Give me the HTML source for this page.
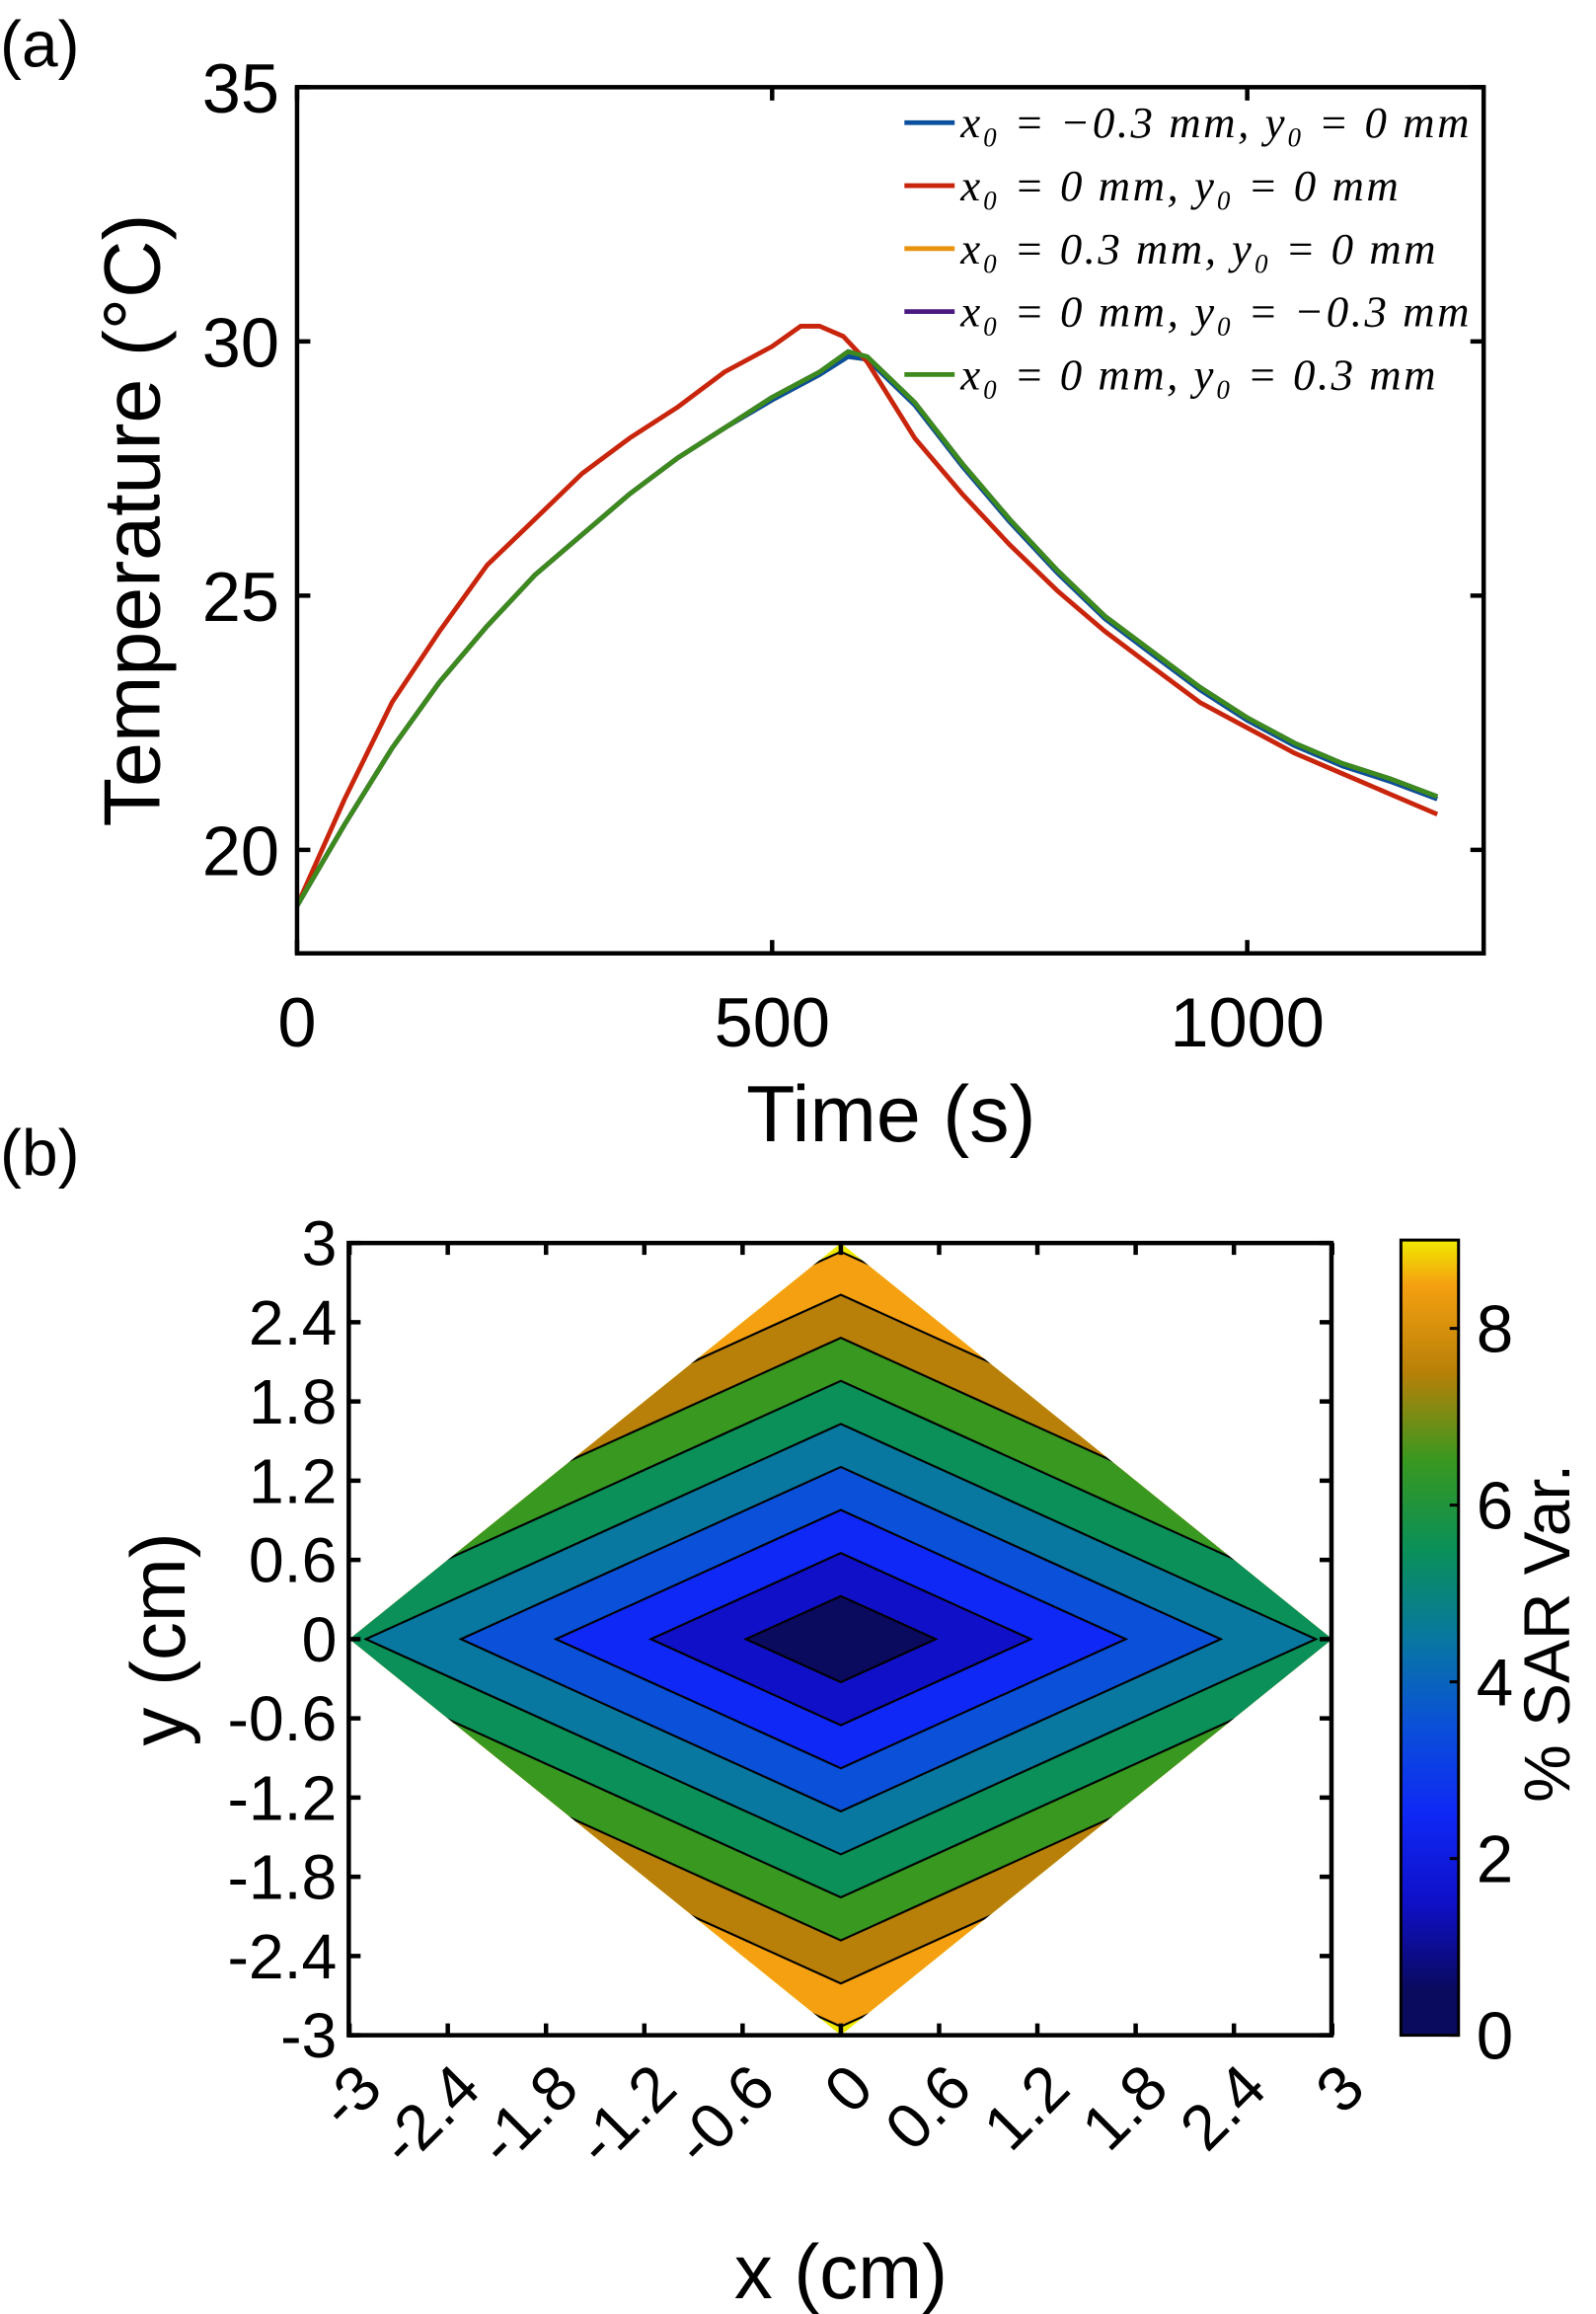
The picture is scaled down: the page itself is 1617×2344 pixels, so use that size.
<!DOCTYPE html>
<html><head><meta charset="utf-8"><style>
html,body{margin:0;padding:0;background:#fff}
svg{display:block}
text{font-family:"Liberation Sans",Arial,sans-serif;fill:#000}
.leg{font-family:"Liberation Serif",serif;font-style:italic;font-size:30px}
</style></head><body>
<svg id="fig" width="1617" height="2344" viewBox="0 0 1080 1565.6" xmlns="http://www.w3.org/2000/svg">
<rect width="1080" height="1566" fill="#fff"/>
<text x="0" y="45" font-size="44">(a)</text>
<text x="0" y="795" font-size="44">(b)</text>
<g id="pa"></g>
<g id="pb"></g>
</svg>
<script>
// ---- Panel (a) data ----
const times=[0,50,100,150,200,250,300,350,400,450,500,530,550,575,600,650,700,750,800,850,900,950,1000,1050,1100,1150,1200];
const redT=[18.9,21.0,22.9,24.3,25.6,26.5,27.4,28.1,28.7,29.4,29.9,30.3,30.3,30.1,29.6,28.1,27.0,26.0,25.1,24.3,23.6,22.9,22.4,21.9,21.5,21.1,20.7];
const timesG=[0,50,100,150,200,250,300,350,400,450,500,550,580,600,650,700,750,800,850,900,950,1000,1050,1100,1150,1200];
const greenT=[18.9,20.5,22.0,23.3,24.4,25.4,26.2,27.0,27.7,28.3,28.9,29.4,29.8,29.7,28.8,27.6,26.5,25.5,24.6,23.9,23.2,22.6,22.1,21.7,21.4,21.05];
const blueT=[18.9,20.5,22.0,23.3,24.4,25.4,26.2,27.0,27.7,28.3,28.85,29.35,29.7,29.65,28.75,27.55,26.45,25.45,24.55,23.85,23.15,22.55,22.05,21.65,21.35,21.0];
const yTicksA=[20,25,30,35];
const xTicksA=[0,500,1000];
const legendLabels=["x\u2080 = \u22120.3 mm, y\u2080 = 0 mm","x\u2080 = 0 mm, y\u2080 = 0 mm","x\u2080 = 0.3 mm, y\u2080 = 0 mm","x\u2080 = 0 mm, y\u2080 = \u22120.3 mm","x\u2080 = 0 mm, y\u2080 = 0.3 mm"];
const legendColors=["#0a4f9e","#c8250c","#e8930f","#4a1a80","#3c8a1e"];
// ---- Panel (b) data ----
const levels=[1,2,3,4,5,6,7,8,9];
const bandColors=["#0a0a5e","#0f10c8","#0f28f5","#0a50d8","#0878a0","#0a9058","#389820","#b88008","#f5a010","#f0ea00"];
const wUnit=0.58, hUnit=0.326;
const ticksB=[-3,-2.4,-1.8,-1.2,-0.6,0,0.6,1.2,1.8,2.4,3];
const cbTicks=[0,2,4,6,8];
const cbMax=9;

const NS="http://www.w3.org/2000/svg";
function mk(tag,attrs,parent){const e=document.createElementNS(NS,tag);for(const k in attrs)e.setAttribute(k,attrs[k]);parent.appendChild(e);return e;}

// ===== Panel a =====
const pa=document.getElementById('pa');
const A={l:201,r:1004,t:59,b:645};
const xa=t=>A.l+t*0.643;
const ya=v=>575-(v-20)*34.4;
function line(xs,ys,color,name,w){
  let d=xs.map((t,i)=>(i?'L':'M')+xa(t).toFixed(1)+','+ya(ys[i]).toFixed(1)).join('');
  const p=mk('path',{d:d,fill:'none',stroke:color,'stroke-width':w||3.2,'stroke-linejoin':'round'},pa);
  
  
}
line(timesG,blueT,legendColors[2],'series-x0-0.3');
line(timesG,blueT,legendColors[0],'series-x0-minus0.3');
line(timesG,greenT,legendColors[3],'series-y0-minus0.3');
line(times,redT,legendColors[1],'series-center');
line(timesG,greenT,legendColors[4],'series-y0-0.3');
const fa=mk('rect',{x:A.l,y:A.t,width:A.r-A.l,height:A.b-A.t,fill:'none',stroke:'#000','stroke-width':3},pa);


yTicksA.forEach(v=>{
  const y=ya(v);
  mk('line',{x1:A.l,x2:A.l+9,y1:y,y2:y,stroke:'#000','stroke-width':3},pa);
  mk('line',{x1:A.r,x2:A.r-9,y1:y,y2:y,stroke:'#000','stroke-width':3},pa);
  const t=mk('text',{x:A.l-12,y:y+17,'font-size':47,'text-anchor':'end'},pa);t.textContent=v;
  
  
});
xTicksA.forEach(v=>{
  const x=xa(v);
  mk('line',{x1:x,x2:x,y1:A.b,y2:A.b-9,stroke:'#000','stroke-width':3},pa);
  mk('line',{x1:x,x2:x,y1:A.t,y2:A.t+9,stroke:'#000','stroke-width':3},pa);
  const t=mk('text',{x:x,y:708,'font-size':47,'text-anchor':'middle'},pa);t.textContent=v;
  
  
});
let t1=mk('text',{x:603,y:772,'font-size':54,'text-anchor':'middle'},pa);t1.textContent='Time (s)';


let t2=mk('text',{x:0,y:0,'font-size':54,'text-anchor':'middle',transform:'translate(108,352) rotate(-90)'},pa);t2.textContent='Temperature (\u00B0C)';


legendLabels.forEach((s,i)=>{
  const y=83+i*42.6;
  const g=mk('g',{},pa);
  
  
  mk('line',{x1:612,x2:646,y1:y,y2:y,stroke:legendColors[i],'stroke-width':3.2},g);
  const t=mk('text',{x:650,y:y+10,class:'leg'},g);t.textContent=s;
  const L=t.getComputedTextLength();
  if(L>0){t.setAttribute('textLength',(L*1.12).toFixed(1));t.setAttribute('lengthAdjust','spacing');}
});

// ===== Panel b =====
const pb=document.getElementById('pb');
const B={l:236,r:901,t:841,b:1377};
const xb=v=>569+v*(B.r-B.l)/6;
const yb=v=>1109-v*(B.b-B.t)/6;
const defs=mk('defs',{},pb);
const cp=mk('clipPath',{id:'dom'},defs);
mk('polygon',{points:`${xb(-3)},${yb(0)} ${xb(0)},${yb(3)} ${xb(3)},${yb(0)} ${xb(0)},${yb(-3)}`},cp);
const cg=mk('g',{'clip-path':'url(#dom)'},pb);


mk('rect',{x:B.l,y:B.t,width:B.r-B.l,height:B.b-B.t,fill:bandColors[9]},cg);
function diamond(k){const w=k*wUnit,h=k*hUnit;return `${xb(-w)},${yb(0)} ${xb(0)},${yb(h)} ${xb(w)},${yb(0)} ${xb(0)},${yb(-h)}`;}
for(let i=levels.length-1;i>=0;i--){
  const p=mk('polygon',{points:diamond(levels[i]),fill:bandColors[i]},cg);
  
  
}
levels.forEach(k=>{
  const p=mk('polygon',{points:diamond(k),fill:'none',stroke:'#000','stroke-width':1.4},cg);
  
  
});
const fb=mk('rect',{x:B.l,y:B.t,width:B.r-B.l,height:B.b-B.t,fill:'none',stroke:'#000','stroke-width':3},pb);


ticksB.forEach(v=>{
  const y=yb(v),x=xb(v);
  mk('line',{x1:B.l,x2:B.l+8,y1:y,y2:y,stroke:'#000','stroke-width':3},pb);
  mk('line',{x1:B.r,x2:B.r-8,y1:y,y2:y,stroke:'#000','stroke-width':3},pb);
  mk('line',{x1:x,x2:x,y1:B.b,y2:B.b-8,stroke:'#000','stroke-width':3},pb);
  mk('line',{x1:x,x2:x,y1:B.t,y2:B.t+8,stroke:'#000','stroke-width':3},pb);
  const ty=mk('text',{x:B.l-8,y:y+15,'font-size':43,'text-anchor':'end'},pb);ty.textContent=v;
  
  
  const tx=mk('text',{x:0,y:0,'font-size':43,'text-anchor':'end',transform:`translate(${x+24},${B.b+38}) rotate(-45)`},pb);tx.textContent=v;
  
  
});
let t3=mk('text',{x:569,y:1555,'font-size':52,'text-anchor':'middle'},pb);t3.textContent='x (cm)';


let t4=mk('text',{x:0,y:0,'font-size':52,'text-anchor':'middle',transform:'translate(125,1109) rotate(-90)'},pb);t4.textContent='y (cm)';


// colorbar
const C={l:948,r:987,t:839,b:1377};
const yc=v=>C.b-v*(C.b-C.t)/cbMax;
const lg=mk('linearGradient',{id:'cbg',x1:0,y1:1,x2:0,y2:0},defs);
bandColors.forEach((c,i)=>mk('stop',{offset:(Math.min(i+0.5,9)/cbMax).toFixed(3),'stop-color':c},lg));
const cb=mk('rect',{x:C.l,y:C.t,width:C.r-C.l,height:C.b-C.t,fill:'url(#cbg)',stroke:'#000','stroke-width':2},pb);


cbTicks.forEach(v=>{
  const y=yc(v);
  mk('line',{x1:C.r,x2:C.r-6,y1:y,y2:y,stroke:'#000','stroke-width':2},pb);
  const t=mk('text',{x:C.r+12,y:y+16,'font-size':45},pb);t.textContent=v;
  
  
});
let t5=mk('text',{x:0,y:0,'font-size':44,'text-anchor':'middle',transform:'translate(1062,1105) rotate(-90)'},pb);t5.textContent='% SAR Var.';


</script>
</body></html>
